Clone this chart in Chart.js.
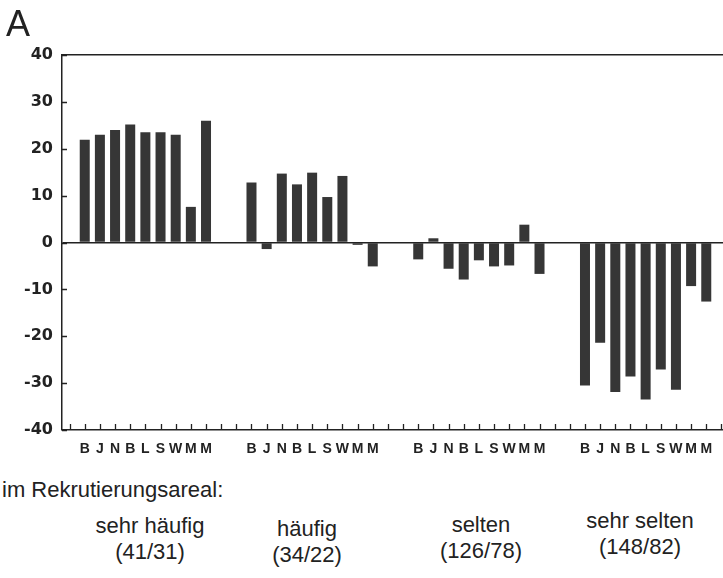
<!DOCTYPE html>
<html>
<head>
<meta charset="utf-8">
<script src="https://cdn.jsdelivr.net/npm/chart.js@4.4.1/dist/chart.umd.min.js"></script>
<style>
  html, body { margin: 0; padding: 0; background: #fff; overflow: hidden; width: 723px; height: 578px; }
  #wrap { position: absolute; left: 0; top: 0; width: 740px; height: 470px; }
  .t { position: absolute; font-family: "Liberation Sans", Arial, sans-serif; color: #222; white-space: nowrap; }
  .c { transform: translateX(-50%); text-align: center; }
</style>
</head>
<body>
<div id="wrap"><canvas id="c" width="740" height="470"></canvas></div>
<div class="t" style="left:6px; top:3px; font-size:36px; font-weight:300;">A</div>
<div class="t" style="left:2px; top:477px; font-size:22px;">im Rekrutierungsareal:</div>
<div class="t c" style="left:150px; top:513px; font-size:22px; line-height:26px;">sehr häufig<br>(41/31)</div>
<div class="t c" style="left:307px; top:516px; font-size:22px; line-height:26px;">häufig<br>(34/22)</div>
<div class="t c" style="left:481px; top:512px; font-size:22px; line-height:26px;">selten<br>(126/78)</div>
<div class="t c" style="left:640px; top:508px; font-size:22px; line-height:26px;">sehr selten<br>(148/82)</div>
<script>
// ---- data ----
const groups = ["sehr häufig", "häufig", "selten", "sehr selten"];
const barLabels = ["B", "J", "N", "B", "L", "S", "W", "M", "M"];
const valuesSehrHaeufig = [21.9, 23.0, 24.0, 25.2, 23.5, 23.5, 23.0, 7.6, 26.0];
const valuesHaeufig     = [12.8, -1.4, 14.7, 12.4, 14.9, 9.7, 14.2, -0.5, -5.1];
const valuesSelten      = [-3.6, 0.9, -5.6, -7.9, -3.8, -5.1, -4.9, 3.8, -6.7];
const valuesSehrSelten  = [-30.5, -21.4, -31.9, -28.6, -33.5, -27.1, -31.4, -9.3, -12.6];
const yTicks = [40, 30, 20, 10, 0, -10, -20, -30, -40];

// Build category slots: one blank slot, then each group of 9 bars followed by 2 blank slots
const seriesList = [valuesSehrHaeufig, valuesHaeufig, valuesSelten, valuesSehrSelten];
const labels = [""];
const data = [null];
seriesList.forEach((vals, gi) => {
  vals.forEach((v, i) => { labels.push(barLabels[i]); data.push(v); });
  if (gi < seriesList.length - 1) { labels.push("", ""); data.push(null, null); }
  else { labels.push(""); data.push(null); }
});

const ink = "#222";
const innerTicks = {
  id: "innerTicks",
  afterDraw(chart) {
    const ctx = chart.ctx, x = chart.scales.x, y = chart.scales.y, a = chart.chartArea;
    ctx.save();
    ctx.strokeStyle = ink; ctx.lineWidth = 1.3;
    ctx.beginPath();
    for (let i = 0; i < labels.length; i++) {
      const px = Math.round(x.getPixelForTick(i)) + 0.5;
      ctx.moveTo(px, a.bottom); ctx.lineTo(px, a.bottom - 6);
    }
    y.ticks.forEach((t) => {
      const py = Math.round(y.getPixelForValue(t.value)) + 0.5;
      ctx.moveTo(a.left, py); ctx.lineTo(a.left + 5, py);
    });
    ctx.stroke();
    ctx.restore();
  }
};

new Chart(document.getElementById("c"), {
  type: "bar",
  data: {
    labels: labels,
    datasets: [{
      data: data,
      backgroundColor: "#363636",
      borderWidth: 0,
      barPercentage: 0.66,
      categoryPercentage: 1.0
    }]
  },
  plugins: [innerTicks],
  options: {
    responsive: false,
    animation: false,
    devicePixelRatio: 1,
    layout: { padding: { top: 55, right: 11, left: 0, bottom: 0 } },
    plugins: { legend: { display: false }, tooltip: { enabled: false } },
    scales: {
      x: {
        type: "category",
        position: "bottom",
        grid: { display: false, drawTicks: false },
        border: { display: true, color: ink, width: 1.5 },
        ticks: {
          autoSkip: false, maxRotation: 0, minRotation: 0, padding: 11,
          color: ink,
          font: { family: "Liberation Sans", weight: "bold", size: 14 }
        },
        afterFit(s) { s.height = 40; }
      },
      x2: {
        type: "category",
        position: "top",
        labels: labels,
        grid: { display: false, drawTicks: false },
        border: { display: true, color: ink, width: 1.5 },
        ticks: { display: false },
        afterFit(s) { s.height = 0; }
      },
      y: {
        min: -40, max: 40,
        afterBuildTicks(s) { s.ticks = yTicks.map(v => ({ value: v })); },
        grid: {
          drawTicks: false,
          color: (c) => (c.tick && c.tick.value === 0 ? ink : "rgba(0,0,0,0)"),
          lineWidth: (c) => (c.tick && c.tick.value === 0 ? 1.5 : 0)
        },
        border: { display: true, color: ink, width: 1.5 },
        ticks: {
          padding: 9, color: ink,
          font: { family: "DejaVu Sans", weight: "bold", size: 16 },
          callback: (v) => (v < 0 ? "-" + Math.abs(v) : String(v))
        },
        afterFit(s) { s.width = 62; }
      }
    }
  }
});
</script>
</body>
</html>
